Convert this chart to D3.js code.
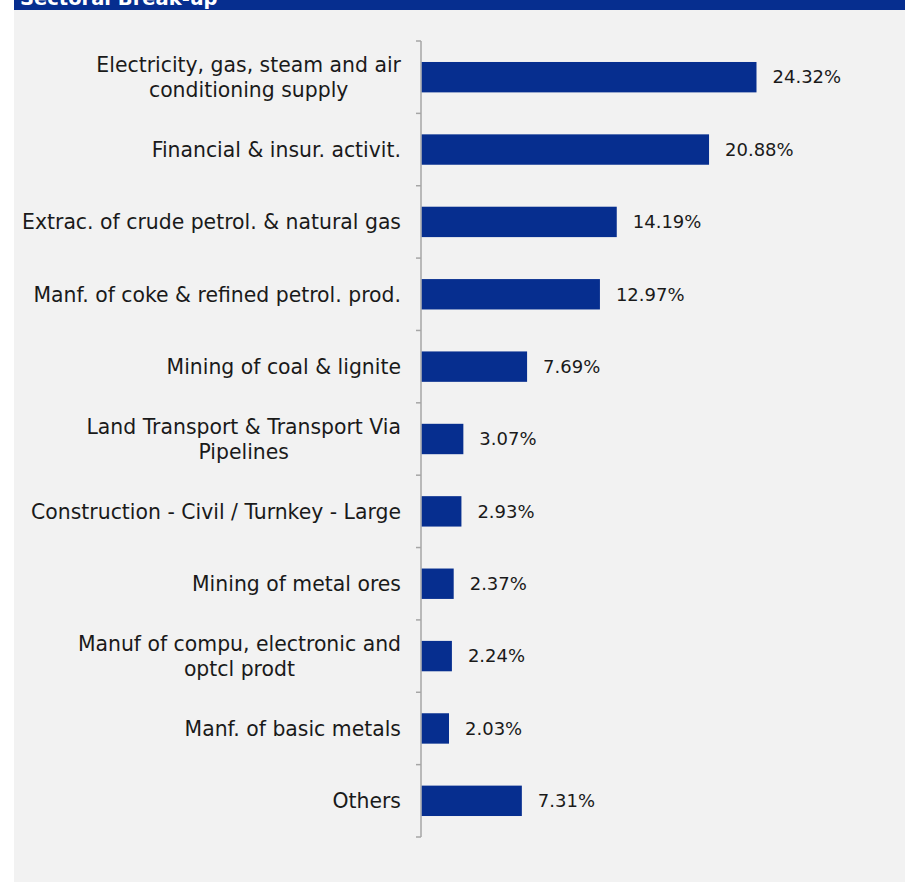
<!DOCTYPE html>
<html>
<head>
<meta charset="utf-8">
<script src="https://cdn.jsdelivr.net/npm/d3@7"></script>
<style>
  html, body { margin: 0; padding: 0; background: #ffffff; }
  svg { display: block; }
</style>
</head>
<body>
<svg id="chart" width="908" height="882"></svg>
<script>
// Sectoral break-up of exposure (share, %)
const categories = [
  ["Electricity, gas, steam and air", "conditioning supply"],
  ["Financial & insur. activit."],
  ["Extrac. of crude petrol. & natural gas"],
  ["Manf. of coke & refined petrol. prod."],
  ["Mining of coal & lignite"],
  ["Land Transport & Transport Via", "Pipelines"],
  ["Construction - Civil / Turnkey - Large"],
  ["Mining of metal ores"],
  ["Manuf of compu, electronic and", "optcl prodt"],
  ["Manf. of basic metals"],
  ["Others"]
];
const values = [24.32, 20.88, 14.19, 12.97, 7.69, 3.07, 2.93, 2.37, 2.24, 2.03, 7.31];
const valueLabels = ["24.32%", "20.88%", "14.19%", "12.97%", "7.69%", "3.07%", "2.93%", "2.37%", "2.24%", "2.03%", "7.31%"];
const title = "Sectoral Break-up";

const W = 908, H = 882;
const FONT = "'DejaVu Sans', sans-serif";
const svg = d3.select("#chart");

// panel and header band (the title sits mostly above the visible area)
svg.append("rect").attr("x", 14).attr("y", 0).attr("width", 891).attr("height", H).attr("fill", "#f2f2f2");
svg.append("rect").attr("x", 14).attr("y", 0).attr("width", 891).attr("height", 10).attr("fill", "#062e8f");
svg.append("text").attr("x", 20).attr("y", 5)
  .attr("font-family", FONT).attr("font-weight", "bold")
  .attr("font-size", 19.5).attr("fill", "#ffffff").text(title);

const x0 = 421;
const x = d3.scaleLinear().domain([0, 24.32]).range([x0, 756.5]);
const y = d3.scaleBand().domain(d3.range(categories.length)).range([41, 837]).paddingInner(0.58).paddingOuter(0.29);

// category axis with outer ticks at band boundaries
const step = y.step();
const axis = svg.append("g");
axis.append("line").attr("x1", x0).attr("x2", x0).attr("y1", 41).attr("y2", 837)
  .attr("stroke", "#a6a6a6").attr("stroke-width", 1.5);
axis.selectAll("line.tick").data(d3.range(categories.length + 1)).join("line")
  .attr("class", "tick")
  .attr("x1", x0 - 5).attr("x2", x0)
  .attr("y1", i => 41 + i * step).attr("y2", i => 41 + i * step)
  .attr("stroke", "#a6a6a6").attr("stroke-width", 1.5);

// bars
svg.append("g").selectAll("rect").data(values).join("rect")
  .attr("x", x0 + 0.75)
  .attr("y", (d, i) => y(i))
  .attr("width", d => x(d) - x0 - 0.75)
  .attr("height", y.bandwidth())
  .attr("fill", "#062e8f");

// value labels
svg.append("g").selectAll("text").data(values).join("text")
  .attr("x", d => x(d) + 16)
  .attr("y", (d, i) => y(i) + y.bandwidth() / 2)
  .attr("dy", "0.35em")
  .attr("font-family", FONT).attr("font-size", 18).attr("fill", "#1a1a1a")
  .text((d, i) => valueLabels[i]);

// category labels, multi-line ones centred on each other
const lineH = 25.5;
const labels = svg.append("g");
categories.forEach((lines, i) => {
  const cy = y(i) + y.bandwidth() / 2;
  const t = labels.append("text")
    .attr("font-family", FONT).attr("font-size", 20.4).attr("fill", "#1a1a1a");
  lines.forEach((ln, k) => {
    t.append("tspan").attr("x", 0)
      .attr("y", cy + (k - (lines.length - 1) / 2) * lineH)
      .attr("dy", "0.36em").text(ln);
  });
  const widths = [];
  t.selectAll("tspan").each(function() { widths.push(this.getComputedTextLength()); });
  const maxW = d3.max(widths);
  t.attr("text-anchor", "middle");
  t.selectAll("tspan").attr("x", 401 - maxW / 2);
});
</script>
</body>
</html>
